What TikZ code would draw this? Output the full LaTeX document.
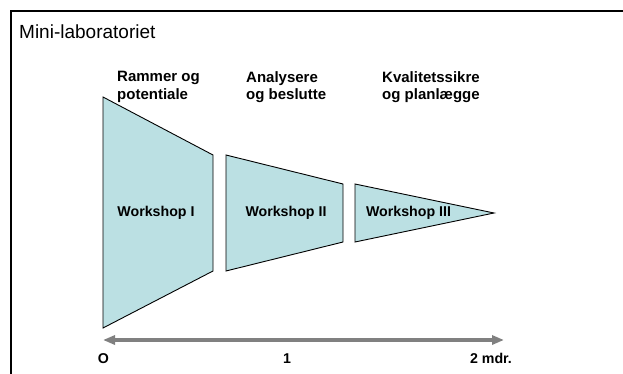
\documentclass[tikz,border=0pt]{standalone}
\usepackage{fontspec}
\setmainfont{Liberation Sans}
\usetikzlibrary{arrows.meta,positioning}

\begin{document}
\begin{tikzpicture}[x=1pt,y=-1pt,
    stage/.style={draw=black,line width=0.9pt,fill=wsfill,line join=miter},
    ws/.style={anchor=base,inner sep=0pt,font=\fontsize{14.2}{17}\selectfont\bfseries},
    phase/.style={anchor=north west,align=left,inner sep=0pt,
      font=\fontsize{15}{17.7}\selectfont\bfseries},
    tick/.style={anchor=base,inner sep=0pt,font=\fontsize{14.2}{17}\selectfont\bfseries},
    timeline/.style={draw=axisgray,line width=3.5pt,
      {Triangle[length=12pt,width=9pt]}-{Triangle[length=12pt,width=9pt]}}]
        \definecolor{wsfill}{RGB}{187,224,227}
        \definecolor{axisgray}{RGB}{128,128,128}
        \def\axisy{340}
        \def\tickbase{363}

        \useasboundingbox (0,0) rectangle (623,374);
        \draw[line width=1.3pt] (11,374) -- (11,11) -- (623,11);

        \node[anchor=base west,inner sep=0pt,font=\fontsize{19}{22}\selectfont]
          (title) at (19,38.5) {Mini-laboratoriet};

        % phase headings
        \node[phase] (phase1) at (117,71) {Rammer og\\potentiale};
        \node[phase] (phase2) at (246,71) {Analysere\\og beslutte};
        \node[phase] (phase3) at (382,71) {Kvalitetssikre\\og planlægge};

        % the three funnel stages
        \draw[stage] (103,97) -- (213,155) -- (213,271) -- (103,328) -- cycle;
        \draw[stage] (226,155) -- (343,184) -- (343,242) -- (226,271) -- cycle;
        \draw[stage] (355,184) -- (494,213) -- (355,242) -- cycle;
        \node[ws] (ws1) at (156,216.5) {Workshop I};
        \node[ws] (ws2) at (286,216.5) {Workshop II};
        \node[ws] (ws3) at (408.5,216.5) {Workshop III};

        % time axis
        \coordinate (t0) at (103,\axisy);
        \coordinate (t2) at (504,\axisy);
        \draw[timeline] (t0) -- (t2);
        \node[tick] (m0) at (103.5,\tickbase) {O};
        \node[tick] (m1) at (287,\tickbase) {1};
        \node[tick] (m2) at (491,\tickbase) {2 mdr.};
      \end{tikzpicture}
\end{document}
